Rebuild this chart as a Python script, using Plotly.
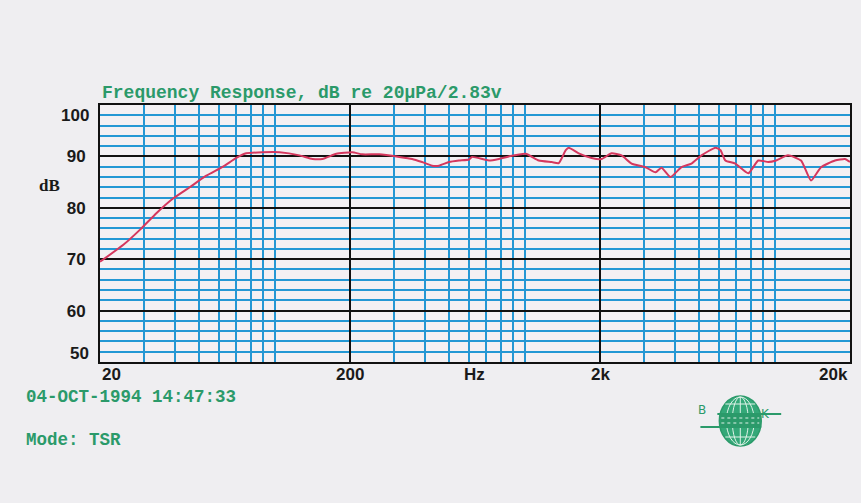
import plotly.graph_objects as go
import math

# ---- data ----
freq_hz = [20, 24.8, 29, 33.7, 39.2, 45.7, 53, 62.1, 70.2, 76.9,
           89.3, 104.5, 125.6, 141.5, 155.2, 176.3, 204.3, 224, 261.9,
           314.8, 354.7, 388.3, 425.8, 454.1, 497.9, 545.9, 598.6, 615.3,
           719.3, 788.3, 863.5, 1009, 1138, 1283, 1368, 1459, 1500,
           1644, 1851, 2029, 2225, 2440, 2675, 3041, 3335, 3524,
           3829, 4235, 4645, 5093, 5795, 6069, 6347, 6954, 7837,
           8595, 9425, 10130, 11300, 12740, 13970, 15320, 17420, 19090,
           20000]
level_db = [69.5, 72.8, 75.8, 79.0, 81.8, 84.0, 86.2, 88.0, 89.7, 90.6,
            90.8, 90.8, 90.2, 89.5, 89.5, 90.5, 90.8, 90.4, 90.4,
            89.9, 89.5, 88.9, 88.2, 88.2, 88.9, 89.2, 89.4, 89.9,
            89.2, 89.5, 90.0, 90.5, 89.2, 88.9, 88.7, 91.2, 91.7,
            90.6, 89.7, 89.5, 90.6, 90.2, 88.6, 87.9, 86.9, 87.8,
            86.0, 87.9, 88.6, 90.2, 91.7, 91.2, 89.2, 88.6, 86.7,
            89.2, 88.9, 89.2, 90.2, 89.2, 85.3, 87.9, 89.2, 89.5,
            88.9]

x_major = [200, 2000]
x_minor = [30, 40, 50, 60, 70, 80, 90, 100,
           300, 400, 500, 600, 700, 800, 900, 1000,
           3000, 4000, 5000, 6000, 7000, 8000, 9000, 10000]
y_major = [60, 70, 80, 90]
x_tick_labels = [(20, "20", "left"), (200, "200", "center"), (630, "Hz", "center"),
                 (2000, "2k", "center"), (20000, "20k", "right")]
y_edge_labels = [(100, "100", -10), (50, "50", 9)]

title_text = "Frequency Response, dB re 20\u00b5Pa/2.83v"
date_text = "04-OCT-1994 14:47:33"
mode_text = "Mode: TSR"

GREEN = "#2b9a6a"
BLUE = "#2497d4"
RED = "#d5375e"
LABEL_FONT = dict(family="Liberation Sans", size=17, color="#1a1a1a", weight="bold")
MONO_FONT = dict(family="Liberation Mono", size=17.5, color=GREEN, weight="bold")
TITLE_FONT = dict(family="Liberation Mono", size=18, color=GREEN, weight="bold")

fig = go.Figure()
fig.add_trace(go.Scatter(x=freq_hz, y=level_db, mode="lines",
                         line=dict(color=RED, width=2, shape="spline", smoothing=0.5),
                         hoverinfo="skip", showlegend=False))

fig.update_xaxes(type="log", range=[math.log10(20), math.log10(20000)],
                 tickmode="array", tickvals=x_major, showticklabels=False,
                 showgrid=True, gridcolor="#111111", gridwidth=2,
                 minor=dict(tickmode="array", tickvals=x_minor, showgrid=True,
                            gridcolor=BLUE, gridwidth=2),
                 showline=True, linecolor="#111111", linewidth=2, mirror=True,
                 zeroline=False, ticks="")
fig.update_yaxes(range=[50, 100], tickmode="array", tickvals=y_major,
                 tickfont=LABEL_FONT, ticklabelstandoff=9,
                 showgrid=True, gridcolor="#111111", gridwidth=2,
                 minor=dict(dtick=2, tick0=50, showgrid=True, gridcolor=BLUE, gridwidth=2),
                 showline=True, linecolor="#111111", linewidth=2, mirror=True,
                 zeroline=False, ticks="")

# plot-area geometry in pixels (used only to place decorations)
L, R, T, B = 100, 852, 105, 362
def px(xp):
    return (xp - L) / (R - L)
def py(yp):
    return (B - yp) / (B - T)

ann = []
for v, t, anc in x_tick_labels:
    ann.append(dict(x=math.log10(v), y=0, xref="x", yref="paper", text=t,
                    xanchor=anc, yanchor="top", yshift=-1, showarrow=False,
                    font=LABEL_FONT))
for v, t, sh in y_edge_labels:
    ann.append(dict(x=0, y=v, xref="paper", yref="y", text=t, xanchor="right",
                    yanchor="middle", xshift=-9, yshift=sh, showarrow=False,
                    font=LABEL_FONT))
ann.append(dict(x=0, y=py(185), xref="paper", yref="paper", text="dB", xanchor="right",
                yanchor="middle", xshift=-38, showarrow=False,
                font=dict(family="Liberation Serif", size=17, color="#1a1a1a", weight="bold")))
ann.append(dict(x=px(100), y=py(93), xref="paper", yref="paper", text=title_text,
                xanchor="left", yanchor="middle", showarrow=False, font=TITLE_FONT))
ann.append(dict(x=px(24), y=py(397), xref="paper", yref="paper", text=date_text,
                xanchor="left", yanchor="middle", showarrow=False, font=MONO_FONT))
ann.append(dict(x=px(24), y=py(440), xref="paper", yref="paper", text=mode_text,
                xanchor="left", yanchor="middle", showarrow=False, font=MONO_FONT))

# B&K logo
ann.append(dict(x=px(710), y=py(419), xref="paper", yref="paper", text="B", showarrow=False,
                font=dict(family="DejaVu Sans", size=12, color=GREEN)))
ann.append(dict(x=px(774), y=py(423), xref="paper", yref="paper", text="K", showarrow=False,
                font=dict(family="DejaVu Sans", size=12, color=GREEN)))

LOGO_LINE = "#dff2e8"
shapes = []
shapes.append(dict(type="circle", xref="paper", yref="paper",
                   x0=px(721), x1=px(763), y0=py(396), y1=py(446),
                   fillcolor="#34a878", line=dict(color="#2b9a6a", width=1.5)))
for w in (14, 8):
    shapes.append(dict(type="circle", xref="paper", yref="paper",
                       x0=px(742 - w), x1=px(742 + w), y0=py(397), y1=py(445),
                       line=dict(color=LOGO_LINE, width=1)))
shapes.append(dict(type="line", xref="paper", yref="paper", x0=px(742), x1=px(742),
                   y0=py(397), y1=py(445), line=dict(color=LOGO_LINE, width=1)))
for yy in (404, 437):
    shapes.append(dict(type="line", xref="paper", yref="paper", x0=px(727),
                       x1=px(757), y0=py(yy), y1=py(yy),
                       line=dict(color=LOGO_LINE, width=1)))
shapes.append(dict(type="rect", xref="paper", yref="paper", x0=px(722), x1=px(762),
                   y0=py(414), y1=py(427), fillcolor="#2b9a6a", line=dict(width=0)))
for yy in (418, 423):
    shapes.append(dict(type="line", xref="paper", yref="paper", x0=px(723), x1=px(761),
                       y0=py(yy), y1=py(yy),
                       line=dict(color=LOGO_LINE, width=1, dash="dot")))
shapes.append(dict(type="line", xref="paper", yref="paper", x0=px(719), x1=px(783),
                   y0=py(414), y1=py(414), line=dict(color=GREEN, width=2)))
shapes.append(dict(type="line", xref="paper", yref="paper", x0=px(702), x1=px(763),
                   y0=py(427), y1=py(427), line=dict(color=GREEN, width=2)))

fig.update_layout(width=861, height=503,
                  margin=dict(l=L, r=861 - R, t=T, b=503 - B, pad=0),
                  paper_bgcolor="#efeef1", plot_bgcolor="#f3f0f3",
                  annotations=ann, shapes=shapes, showlegend=False)

fig.write_html("out.html", config={"displayModeBar": False},
               post_script="document.body.style.margin='0px';"
                           "document.body.style.overflow='hidden';")
